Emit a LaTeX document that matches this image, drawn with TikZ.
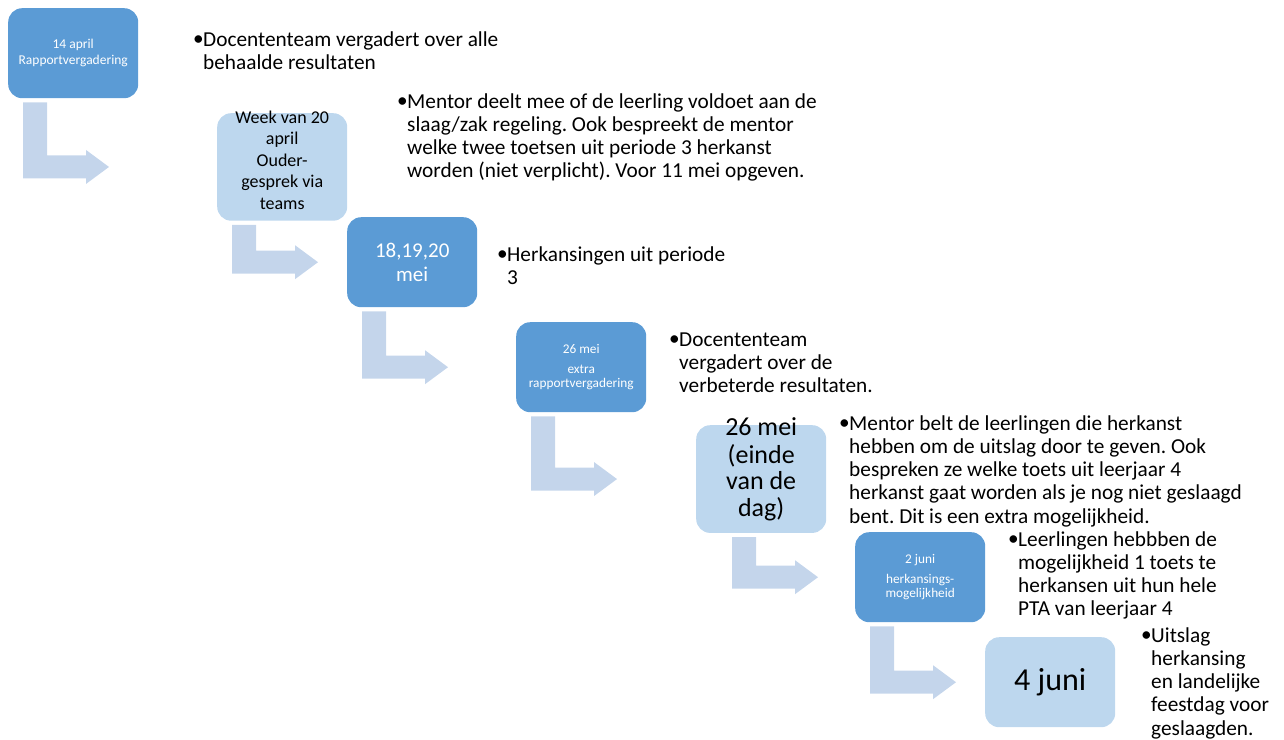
\documentclass[tikz,border=0pt]{standalone}
\usepackage{fontspec}
\setmainfont{Carlito}
\frenchspacing
\usetikzlibrary{calc}
\definecolor{darkbox}{HTML}{5B9BD5}
\definecolor{lightbox}{HTML}{BDD7EE}
\definecolor{arrowfill}{HTML}{C4D5EB}
\newcommand{\bulletblock}[1]{\begin{tabular}[t]{@{}l@{}l@{}}#1\end{tabular}}
\newcommand{\bp}{\makebox[10pt][l]{\raisebox{0.5pt}{\textbullet}}}
\newcommand{\lifted}[2]{\raisebox{#1}[\height][\depth]{\begin{tabular}{@{}c@{}}#2\end{tabular}}}
\tikzset{
  box/.style={rounded corners=14pt, minimum width=130pt, minimum height=90pt, inner sep=0pt, anchor=north west, align=center},
  darkstep/.style={box, fill=darkbox, text=white},
  lightstep/.style={box, fill=lightbox, text=black},
  note/.style={anchor=base west, inner sep=0pt, font=\fontsize{21.3}{23.3}\selectfont},
  small/.style={font=\fontsize{13.3}{14.5}\selectfont}
}
% #1 source box, #2 target box, #3 x offset of the shaft from the source's left edge
\newcommand{\bentarrow}[3]{%
  \path ($(#1.south west)+(#3+86,0)$) coordinate (#1tx);
  \coordinate (#1tip) at (#1tx |- #2.west);
  \fill[arrowfill] ($(#1.south west)+(#3,4)$) -- ($(#1.south west)+(#3+24,4)$)
    -- ($(#1tip)+(-62,-11.5)$) -- ($(#1tip)+(-23,-11.5)$) -- ($(#1tip)+(-23,-17)$)
    -- (#1tip) -- ($(#1tip)+(-23,17)$) -- ($(#1tip)+(-23,11.5)$)
    -- ($(#1tip)+(-86,11.5)$) -- cycle;
}
\begin{document}
\begin{tikzpicture}[x=1pt,y=-1pt]
\useasboundingbox (0,0) rectangle (1284,739);
% boxes
\node[darkstep, font=\fontsize{13.5}{16}\selectfont] (b1) at (8,8) {14 april\\Rapportvergadering};
\node[lightstep, font=\fontsize{18}{21.5}\selectfont] (b2) at (217,113) {\lifted{5pt}{Week van 20\\april\\Ouder-\\gesprek via\\teams}};
\node[darkstep, font=\fontsize{21}{24}\selectfont] (b3) at (347,217) {18,19,20\\mei};
\node[darkstep, small] (b4) at (516,322) {26 mei\\[5pt]extra\\rapportvergadering};
\node[lightstep, font=\fontsize{26}{26.8}\selectfont] (b5) at (696,425) {\lifted{8pt}{26 mei\\(einde\\van de\\dag)}};
\node[darkstep, small] (b6) at (855,532) {2 juni\\[5pt]herkansings-\\mogelijkheid};
\node[lightstep, font=\fontsize{32}{36}\selectfont] (b7) at (985,637) {4 juni};
% arrows
\bentarrow{b1}{b2}{15}
\bentarrow{b2}{b3}{15}
\bentarrow{b3}{b4}{15}
\bentarrow{b4}{b5}{15}
\bentarrow{b5}{b6}{36}
\bentarrow{b6}{b7}{15}
% notes
\node[note] (n1) at (193,46) {\bulletblock{\bp & Docententeam vergadert over alle\\ & behaalde resultaten}};
\node[note] (n2) at (397,108) {\bulletblock{\bp & Mentor deelt mee of de leerling voldoet aan de\\ & slaag/zak regeling. Ook bespreekt de mentor\\ & welke twee toetsen uit periode 3 herkanst\\ & worden (niet verplicht). Voor 11 mei opgeven.}};
\node[note] (n3) at (497,261) {\bulletblock{\bp & Herkansingen uit periode\\ & 3}};
\node[note] (n4) at (669,346) {\bulletblock{\bp & Docententeam\\ & vergadert over de\\ & verbeterde resultaten.}};
\node[note] (n5) at (839,430) {\bulletblock{\bp & Mentor belt de leerlingen die herkanst\\ & hebben om de uitslag door te geven. Ook\\ & bespreken ze welke toets uit leerjaar 4\\ & herkanst gaat worden als je nog niet geslaagd\\ & bent. Dit is een extra mogelijkheid.}};
\node[note] (n6) at (1008,546) {\bulletblock{\bp & Leerlingen hebbben de\\ & mogelijkheid 1 toets te\\ & herkansen uit hun hele\\ & PTA van leerjaar 4}};
\node[note] (n7) at (1141,642) {\bulletblock{\bp & Uitslag\\ & herkansing\\ & en landelijke\\ & feestdag voor\\ & geslaagden.}};
\end{tikzpicture}
\end{document}
